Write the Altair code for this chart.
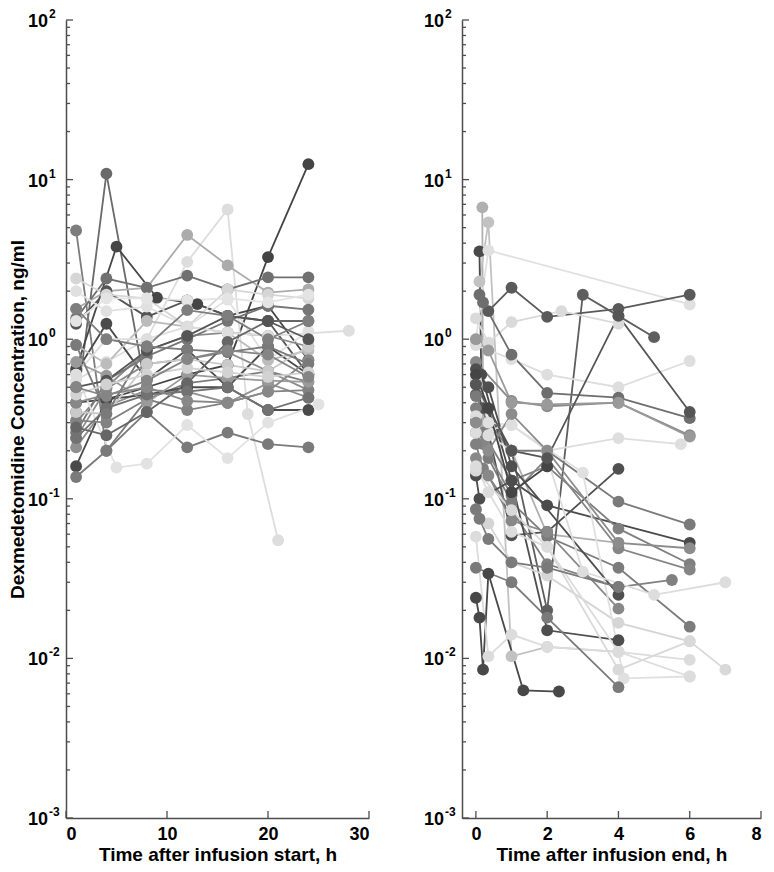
import altair as alt
import pandas as pd

# ---------------- data ----------------
# Left panel: time after infusion start (h) and concentration (ng/ml), one list per subject
left_times = [
    [1, 4, 8],
    [1, 4, 8, 12, 16, 20, 24],
    [1, 5, 9, 13, 16, 20, 24],
    [1, 4, 8, 12, 16, 20, 24],
    [1, 4, 8, 12, 16, 18, 21],
    [1, 4, 8, 12, 16, 20, 24],
    [1, 4, 8, 12, 16, 20, 24],
    [1, 4, 8, 12, 16, 20, 24],
    [1, 4, 8, 12, 16, 20, 24],
    [1, 4, 8, 12, 16, 20, 24],
    [1, 4, 8, 12, 16, 20, 24],
    [1, 4, 8, 12, 16, 20, 24],
    [1, 4, 8, 12, 16, 20, 24],
    [1, 4, 8, 12, 16, 20, 24],
    [1, 4, 8, 12, 16, 20, 24],
    [1, 4, 8, 12, 16, 20, 24],
    [1, 4, 8, 12, 16, 20, 24],
    [1, 5, 8, 12, 16, 20, 25],
    [1, 4, 8, 12, 16, 20, 24],
    [1, 4, 8, 12, 16, 20, 24],
    [1, 4, 8, 12, 16, 20, 24],
    [1, 4, 8, 12, 16, 20, 28],
    [1, 4, 8, 12, 16, 20, 24],
    [1, 4, 8, 12, 16, 20, 24],
    [1, 4, 8, 12, 16, 20, 24],
    [1, 4, 8, 12, 16, 20, 24],
    [1, 4, 8, 12, 16, 20, 24],
    [1, 4, 8, 12, 16, 20, 24],
    [1, 4, 8, 12, 16, 20, 24],
    [1, 4, 8, 12, 16, 20, 24],
    [1, 4, 8, 12, 16, 20, 24],
    [1, 4, 8, 12, 16, 20, 24],
]
left_values = [
    [0.35, 10.9, 0.45],
    [4.8, 0.2, 0.42, 0.53, 0.57, 0.63, 0.54],
    [0.65, 3.8, 1.82, 1.66, 1.4, 1.62, 0.74],
    [0.4, 0.42, 0.5, 0.6, 0.69, 3.27, 12.5],
    [0.55, 0.72, 1.0, 3.05, 6.5, 0.34, 0.055],
    [1.55, 2.0, 2.1, 4.5, 2.9, 1.96, 2.05],
    [1.35, 2.4, 2.1, 2.5, 2.05, 2.44, 2.44],
    [1.25, 2.0, 1.38, 1.75, 1.4, 1.3, 0.6],
    [2.4, 1.9, 1.8, 1.2, 2.05, 1.9, 1.8],
    [2.0, 1.5, 1.6, 1.2, 1.77, 0.74, 1.12],
    [0.62, 1.25, 0.56, 0.86, 0.5, 0.9, 0.6],
    [0.3, 0.5, 0.85, 1.05, 1.1, 1.05, 0.9],
    [0.26, 0.55, 0.78, 1.0, 1.3, 1.62, 1.53],
    [0.24, 0.49, 0.7, 0.75, 0.83, 0.63, 0.48],
    [0.21, 0.38, 0.48, 0.47, 0.4, 0.53, 0.43],
    [0.16, 0.42, 0.45, 0.5, 0.5, 0.36, 0.36],
    [0.137, 0.2, 0.35, 0.21, 0.26, 0.22, 0.21],
    [0.6, 0.157, 0.166, 0.29, 0.18, 0.3, 0.39],
    [0.31, 0.3, 0.42, 0.36, 0.4, 0.47, 0.48],
    [0.72, 0.59, 0.4, 0.6, 0.57, 0.55, 0.54],
    [0.92, 0.7, 1.3, 1.2, 1.1, 0.74, 0.85],
    [0.6, 1.0, 1.0, 1.2, 1.1, 1.05, 1.13],
    [0.35, 0.34, 0.7, 0.75, 0.69, 0.63, 0.9],
    [0.28, 0.25, 0.35, 0.53, 0.96, 1.3, 1.3],
    [1.3, 1.8, 1.8, 1.75, 1.8, 1.7, 1.9],
    [0.24, 0.37, 0.45, 0.47, 0.5, 0.36, 0.43],
    [0.4, 0.45, 0.5, 0.41, 0.4, 0.47, 0.74],
    [0.5, 0.55, 0.85, 1.05, 1.4, 1.3, 1.0],
    [0.92, 0.34, 0.9, 0.86, 0.83, 0.9, 0.7],
    [1.55, 1.0, 0.9, 1.52, 1.4, 1.0, 1.3],
    [0.45, 0.52, 0.6, 0.66, 0.62, 0.58, 0.62],
    [0.5, 0.44, 0.55, 0.75, 0.85, 0.8, 0.58],
]
left_colors = [
    "#6a6a6a", "#7d7d7d", "#464646", "#444444", "#dddddd", "#ababab",
    "#707070", "#555555", "#d6d6d6", "#e0e0e0", "#4b4b4b", "#8a8a8a",
    "#767676", "#8c8c8c", "#909090", "#4a4a4a", "#7a7a7a", "#e2e2e2",
    "#828282", "#9a9a9a", "#bcbcbc", "#dedede", "#cacaca", "#666666",
    "#e4e4e4", "#727272", "#888888", "#555555", "#7a7a7a", "#7e7e7e",
    "#d2d2d2", "#858585",
]

# Right panel: time after infusion end (h)
right_times = [
    [0.18, 0.2, 1, 2, 4],
    [0.1, 0.35, 1, 2, 4],
    [0.1, 0.15, 1, 2, 6],
    [0, 0.35, 6],
    [0.35, 1, 2, 4, 6],
    [0, 0.1, 0.2, 0.35, 1.33, 2.33],
    [0, 1, 2, 3, 4, 5],
    [0, 1, 2, 4, 6],
    [0, 0.35, 1, 2.4, 4],
    [0.1, 0.2, 1, 2, 4, 6],
    [0, 1, 2, 4, 6],
    [0, 0.2, 1, 2, 4],
    [0, 0.35, 1, 2, 4, 6],
    [0, 0.2, 1, 2, 4, 6],
    [0, 0.2, 1, 2, 4, 6],
    [0, 0.35, 1, 2, 4, 6],
    [0, 0.2, 1, 2, 4, 5.5],
    [0, 0.35, 1, 2, 4],
    [0, 0.1, 1, 2, 4],
    [0, 0.35, 1, 2, 4, 6],
    [0, 0.35, 1, 2, 4, 6],
    [0, 0.35, 1, 3, 4.15, 6],
    [0, 1, 2, 4],
    [0, 0.35, 1, 4],
    [0, 0.35, 1, 2, 3, 5, 7],
    [0, 1, 2, 4, 6, 7],
    [0, 0.35, 1, 2, 4, 6],
    [0, 1, 2, 4, 5.75],
    [0, 0.35, 1, 2, 4, 6],
    [0, 0.35, 1, 2, 4, 6],
    [0, 0.35, 1, 2],
    [0, 0.1, 0.35, 1, 2, 4],
    [0, 1, 2, 4, 6],
]
right_values = [
    [6.7, 0.3, 0.2, 0.06, 0.053],
    [2.3, 5.4, 0.0103, 0.0118, 0.011],
    [3.55, 0.6, 0.13, 0.091, 0.053],
    [1.0, 3.6, 1.65],
    [1.5, 2.1, 1.38, 1.55, 1.9],
    [0.024, 0.018, 0.0085, 0.034, 0.0063, 0.0062],
    [0.45, 0.2, 0.02, 1.9, 1.4, 1.03],
    [0.92, 0.75, 0.6, 0.5, 0.73],
    [1.35, 0.95, 1.28, 1.5, 1.25],
    [1.9, 1.7, 0.8, 0.46, 0.43, 0.32],
    [0.72, 0.41, 0.38, 0.4, 0.25],
    [0.53, 0.37, 0.059, 0.062, 0.154],
    [0.44, 0.3, 0.2, 0.2, 0.096, 0.069],
    [0.37, 0.26, 0.13, 0.16, 0.065, 0.039],
    [0.31, 0.22, 0.105, 0.18, 0.049, 0.036],
    [0.26, 0.18, 0.095, 0.058, 0.037, 0.0158],
    [0.22, 0.155, 0.085, 0.039, 0.028, 0.031],
    [0.18, 0.14, 0.073, 0.062, 0.0205],
    [0.14, 0.1, 0.13, 0.015, 0.013],
    [0.085, 0.07, 0.04, 0.033, 0.0167, 0.0128],
    [0.058, 0.0103, 0.0141, 0.0118, 0.011, 0.0098],
    [0.56, 0.3, 0.29, 0.146, 0.0075, 0.0077],
    [0.037, 0.03, 0.018, 0.0066],
    [0.65, 0.5, 0.16, 0.025],
    [0.33, 0.25, 0.2, 0.18, 0.035, 0.025, 0.03],
    [0.15, 0.085, 0.05, 0.0085, 0.0128, 0.0085],
    [0.16, 0.11, 0.062, 0.05, 0.011, 0.0077],
    [0.26, 0.29, 0.2, 0.24, 0.22],
    [0.3, 0.2, 0.34, 0.2, 0.053, 0.049],
    [1.0, 0.85, 0.4, 0.39, 0.4, 0.245],
    [0.6, 0.37, 0.11, 0.16],
    [0.086, 0.075, 0.056, 0.04, 0.037, 0.028],
    [0.52, 0.2, 0.18, 1.4, 0.35],
]
right_colors = [
    "#b0b0b0", "#c2c2c2", "#4a4a4a", "#e0e0e0", "#5a5a5a", "#484848",
    "#5e5e5e", "#dedede", "#dadada", "#6e6e6e", "#8a8a8a", "#505050",
    "#7a7a7a", "#808080", "#858585", "#7c7c7c", "#808080", "#888888",
    "#4d4d4d", "#d5d5d5", "#dcdcdc", "#e0e0e0", "#7a7a7a", "#4f4f4f",
    "#dddddd", "#d9d9d9", "#dcdcdc", "#dedede", "#8c8c8c", "#9a9a9a",
    "#454545", "#7a7a7a", "#555555",
]

# y tick labels: base "10" and its exponent
y_major = [0.001, 0.01, 0.1, 1, 10, 100]
y_label_base = ["10", "10", "10", "10", "10", "10"]
y_label_exp = ["-3", "-2", "-1", "0", "1", "2"]
y_minor = [k * d for d in [0.001, 0.01, 0.1, 1, 10] for k in range(2, 10)]
left_xticks = [0, 10, 20, 30]
right_xticks = [0, 2, 4, 6, 8]

# ---------------- styling ----------------
H = 798
W_LEFT, W_RIGHT = 303, 299
AX = "#4d4d4d"
FONT = "Liberation Sans"


def make_panel(times, values, colors, xdom, xticks, xtitle, ytitle, prefix, width):
    rows = []
    for i, (ts, vs, c) in enumerate(zip(times, values, colors)):
        for t, v in zip(ts, vs):
            rows.append({"sid": f"{prefix}{i}", "t": t, "v": v, "col": c})
    df = pd.DataFrame(rows)

    xenc = alt.X("t:Q",
                 scale=alt.Scale(domain=xdom, nice=False, zero=False),
                 axis=alt.Axis(values=xticks, title=xtitle, ticks=False, grid=False,
                               labelPadding=7, titlePadding=2, format="d"))
    yaxis_kwargs = dict(values=y_major, labels=False, ticks=False, grid=False)
    if ytitle:
        yaxis_kwargs.update(title=ytitle, titlePadding=39)
    else:
        yaxis_kwargs.update(title=None)
    yenc = alt.Y("v:Q",
                 scale=alt.Scale(type="log", domain=[0.001, 100], nice=False),
                 axis=alt.Axis(**yaxis_kwargs))

    lines = alt.Chart(df).mark_line(strokeWidth=1.8).encode(
        x=xenc, y=yenc, detail="sid:N",
        color=alt.Color("col:N", scale=None), order="t:Q")
    pts = alt.Chart(df).mark_circle(size=140, opacity=1).encode(
        x=xenc, y=yenc, color=alt.Color("col:N", scale=None))

    ymaj = alt.Chart(pd.DataFrame({"v": y_major})).mark_rule(
        color=AX, strokeWidth=1.3).encode(y=yenc, x=alt.value(0), x2=alt.value(7))
    ymin = alt.Chart(pd.DataFrame({"v": y_minor})).mark_rule(
        color=AX, strokeWidth=1.3).encode(y=yenc, x=alt.value(0), x2=alt.value(4))
    xt = alt.Chart(pd.DataFrame({"t": xticks})).mark_rule(
        color=AX, strokeWidth=1.3).encode(x=xenc, y=alt.value(H), y2=alt.value(H - 7))

    lab_df = pd.DataFrame({"v": y_major, "base": y_label_base, "exp": y_label_exp})
    lab_base = alt.Chart(lab_df).mark_text(
        align="right", baseline="middle", font=FONT, fontSize=18, fontWeight="bold",
        color="black", dy=2).encode(y=yenc, x=alt.value(-18), text="base:N")
    lab_exp = alt.Chart(lab_df).mark_text(
        align="left", baseline="middle", font=FONT, fontSize=12, fontWeight="bold",
        color="black", dy=-6).encode(y=yenc, x=alt.value(-17), text="exp:N")

    return alt.layer(lines, pts, ymaj, ymin, xt, lab_base, lab_exp).properties(
        width=width, height=H)


left = make_panel(left_times, left_values, left_colors, [0, 30], left_xticks,
                  "Time after infusion start, h",
                  "Dexmedetomidine Concentration, ng/ml", "L", W_LEFT)
right = make_panel(right_times, right_values, right_colors, [-0.39, 8], right_xticks,
                   "Time after infusion end, h", None, "R", W_RIGHT)

chart = alt.hconcat(left, right, spacing=53).properties(
    padding={"left": 0, "top": 0, "right": 0, "bottom": 0}
).configure_view(stroke=None).configure_axis(
    domainColor=AX, domainWidth=1.5,
    labelFont=FONT, labelFontSize=18, labelFontWeight="bold", labelColor="black",
    titleFont=FONT, titleFontSize=19, titleFontWeight="bold", titleColor="black",
)

chart.save("out.html", embed_options={"renderer": "svg", "actions": False})
